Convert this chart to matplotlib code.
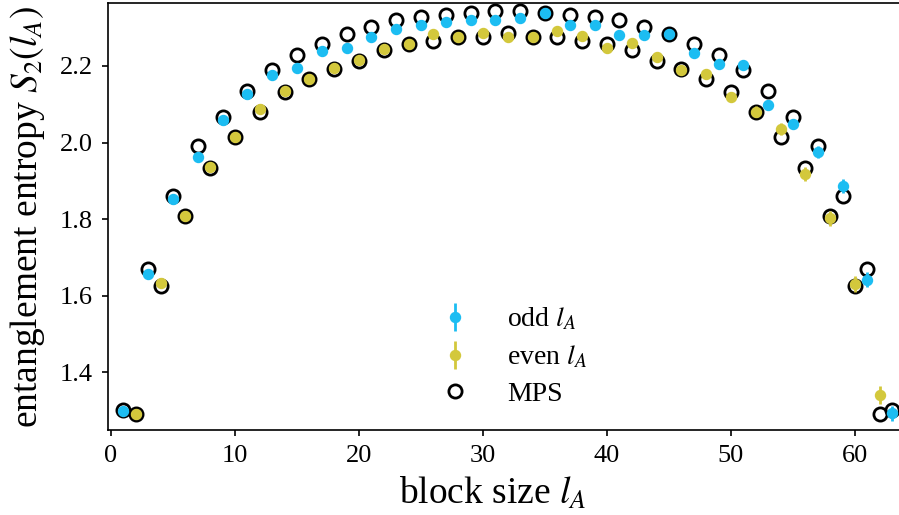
import numpy as np
import matplotlib
matplotlib.use("Agg")
import matplotlib.pyplot as plt

plt.rcParams["font.family"] = ["Liberation Serif", "DejaVu Serif"]
plt.rcParams["mathtext.fontset"] = "stix"

# MPS reference, l_A = 1..63
l_mps = np.arange(1, 64)
s_mps = [1.300, 1.290, 1.669, 1.625, 1.861, 1.809, 1.992, 1.934, 2.067, 2.015,
         2.135, 2.079, 2.189, 2.131, 2.228, 2.165, 2.257, 2.193, 2.283, 2.213,
         2.303, 2.242, 2.320, 2.257, 2.329, 2.265, 2.333, 2.277, 2.339, 2.275,
         2.345, 2.285, 2.345, 2.275, 2.339, 2.277, 2.333, 2.265, 2.329, 2.257,
         2.320, 2.242, 2.303, 2.213, 2.283, 2.193, 2.257, 2.165, 2.228, 2.131,
         2.189, 2.079, 2.135, 2.015, 2.067, 1.934, 1.992, 1.809, 1.861, 1.625,
         1.669, 1.290, 1.300]

# sampled estimates, odd block sizes
l_odd = np.arange(1, 64, 2)
s_odd = [1.298, 1.655, 1.852, 1.963, 2.059, 2.127, 2.176, 2.196, 2.239, 2.248,
         2.277, 2.297, 2.307, 2.316, 2.320, 2.320, 2.325, 2.338, 2.307, 2.307,
         2.281, 2.281, 2.283, 2.233, 2.205, 2.203, 2.098, 2.048, 1.976, 1.886,
         1.641, 1.292]
e_odd = [0.003, 0.003, 0.003, 0.003, 0.003, 0.003, 0.004, 0.004, 0.004, 0.004,
         0.004, 0.004, 0.005, 0.005, 0.005, 0.005, 0.005, 0.005, 0.006, 0.006,
         0.006, 0.007, 0.007, 0.008, 0.009, 0.010, 0.012, 0.014, 0.016, 0.019,
         0.020, 0.020]

# sampled estimates, even block sizes
l_even = np.arange(2, 63, 2)
s_even = [1.290, 1.632, 1.809, 1.937, 2.015, 2.087, 2.135, 2.166, 2.194, 2.216,
          2.244, 2.257, 2.284, 2.277, 2.285, 2.275, 2.275, 2.292, 2.278, 2.246,
          2.261, 2.223, 2.190, 2.178, 2.120, 2.081, 2.035, 1.918, 1.802, 1.630,
          1.340]
e_even = [0.003, 0.003, 0.003, 0.003, 0.003, 0.004, 0.004, 0.004, 0.004, 0.004,
          0.004, 0.005, 0.005, 0.005, 0.005, 0.005, 0.006, 0.006, 0.006, 0.007,
          0.007, 0.008, 0.009, 0.010, 0.012, 0.014, 0.016, 0.019, 0.020, 0.022,
          0.024]

BLUE = "#1cbdf2"
YELLOW = "#d3c83c"

fig = plt.figure(figsize=(8.99, 5.15), dpi=100)
ax = fig.add_axes([108 / 899, 85 / 515, 791 / 899, 427 / 515])

ax.plot(l_mps, s_mps, "o", ms=9.5, mfc="none", mec="black", mew=2.0,
        zorder=1, label="MPS")
ax.errorbar(l_odd, s_odd, yerr=e_odd, fmt="o", ms=7.2, color=BLUE,
            elinewidth=2.0, capsize=0, zorder=3, label=r"odd $l_A$")
ax.errorbar(l_even, s_even, yerr=e_even, fmt="o", ms=7.2, color=YELLOW,
            elinewidth=2.0, capsize=0, zorder=3, label=r"even $l_A$")

ax.set_xlim(-0.24, 63.55)
ax.set_ylim(1.2484, 2.3647)
ax.set_xticks([0, 10, 20, 30, 40, 50, 60])
ax.set_yticks([1.4, 1.6, 1.8, 2.0, 2.2])
ax.tick_params(direction="out", length=4, width=1.2, labelsize=19, pad=7,
               top=False, right=False)
ax.spines["right"].set_visible(False)
for side in ("left", "bottom", "top"):
    ax.spines[side].set_linewidth(1.2)

ax.set_xlabel(r"block size $l_A$", fontsize=27)
ax.set_ylabel(r"entanglement entropy $S_2(l_A)$", fontsize=27)
ax.xaxis.set_label_coords(0.487, -0.108)
ax.yaxis.set_label_coords(-0.077, 0.5)

handles, labels = ax.get_legend_handles_labels()
order = [1, 2, 0]
ax.legend([handles[i] for i in order], [labels[i] for i in order],
          loc="center left", bbox_to_anchor=(0.389, 0.172), frameon=False,
          fontsize=20, handlelength=1.0, labelspacing=0.4, handletextpad=1.4)

fig.savefig("out.png", dpi=100)
